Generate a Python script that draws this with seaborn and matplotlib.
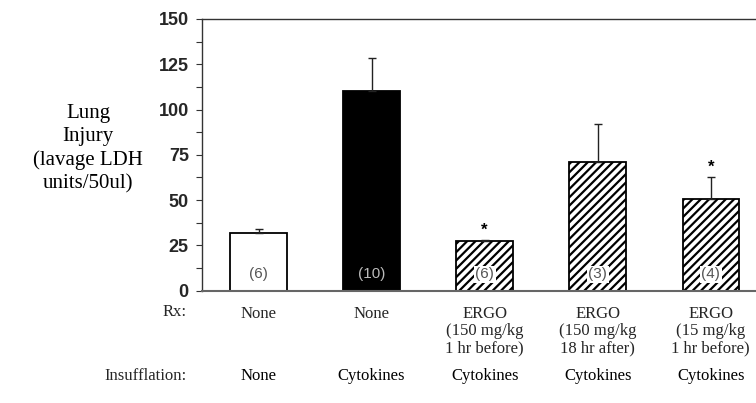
import matplotlib
matplotlib.use("Agg")
import matplotlib.pyplot as plt
import matplotlib.transforms as mtransforms
from matplotlib.ticker import MultipleLocator
import seaborn as sns
import pandas as pd

# ---- data ----
rx_labels = ["None", "None", "ERGO\n(150 mg/kg\n1 hr before)",
             "ERGO\n(150 mg/kg\n18 hr after)", "ERGO\n(15 mg/kg\n1 hr before)"]
insufflation = ["None", "Cytokines", "Cytokines", "Cytokines", "Cytokines"]
means = [32, 110.5, 27.3, 71, 50.7]
sem = [2.3, 18, 0.5, 21.3, 12]
n_labels = ["(6)", "(10)", "(6)", "(3)", "(4)"]
significant = [False, False, True, False, True]
fills = ["white", "black", "white", "white", "white"]
hatches = ["", "", "////", "////", "////"]

sns.set_theme(style="white")
plt.rcParams["hatch.linewidth"] = 1.6

df = pd.DataFrame({"group": [f"g{i}" for i in range(len(means))], "mean": means})

fig = plt.figure(figsize=(7.56, 4.03), dpi=100)
ax = fig.add_axes([202 / 756, 1 - 290.7 / 403, 1 - 202 / 756, (290.7 - 19) / 403])

sns.barplot(data=df, x="group", y="mean", hue="group", palette=fills, legend=False,
            width=0.5, edgecolor="black", linewidth=1.3, ax=ax, saturation=1)

centers = []
for patch, h in zip(ax.patches, hatches):
    patch.set_hatch(h)
    centers.append(patch.get_x() + patch.get_width() / 2)

ax.errorbar(centers, means, yerr=[[0] * len(sem), sem], fmt="none",
            ecolor="#222222", elinewidth=1.0, capsize=2.6, capthick=1.0, zorder=1)

for c, m, s, lab, sig, f, h in zip(centers, means, sem, n_labels, significant, fills, hatches):
    col = "#bbbbbb" if f == "black" else "#555555"
    bbox = dict(facecolor="white", edgecolor="none", pad=1.2) if h else None
    ax.text(c, 9, lab, ha="center", va="center", fontsize=11, color=col,
            family="Liberation Sans", bbox=bbox, zorder=5)
    if sig:
        ax.text(c, m + s + 1.5, "*", ha="center", va="bottom", fontsize=12,
                fontweight="bold", family="Liberation Sans", color="black")

ax.set_ylim(0, 150)
ax.set_xlim(-0.5, 4.4)
ax.yaxis.set_major_locator(MultipleLocator(25))
ax.yaxis.set_minor_locator(MultipleLocator(12.5))
ax.tick_params(axis="y", which="major", left=True, length=4.5, width=0.8, color="#333333",
               labelsize=13, pad=5)
ax.tick_params(axis="y", which="minor", left=True, length=4.5, width=0.8, color="#333333")
for t in ax.get_yticklabels():
    t.set_fontfamily("Liberation Sans")
    t.set_fontweight("bold")

ax.set_xticks(centers)
ax.set_xticklabels(rx_labels, family="Liberation Serif", fontsize=12, linespacing=1.12,
                   va="top")
ax.tick_params(axis="x", length=0, pad=11)
ax.set_xlabel("")

for side in ["left", "top", "bottom"]:
    ax.spines[side].set_visible(True)
    ax.spines[side].set_color("#333333")
    ax.spines[side].set_linewidth(1.0)
ax.spines["bottom"].set_color("#666666")
ax.spines["bottom"].set_linewidth(1.5)
ax.spines["right"].set_visible(False)

ax.set_ylabel("Lung\nInjury\n(lavage LDH\nunits/50ul)", rotation=0, ha="center",
              va="center", family="Liberation Serif", fontsize=15, linespacing=1.3,
              color="black")
ax.yaxis.set_label_coords((88 - 202) / 554, (290.7 - 149) / 271.7)

trans = mtransforms.blended_transform_factory(ax.transData, fig.transFigure)
for c, ins in zip(centers, insufflation):
    ax.text(c, 1 - 376 / 403, ins, transform=trans, ha="center", va="center",
            family="Liberation Serif", fontsize=12, color="black")
fig.text(187 / 756, 1 - 312 / 403, "Rx:", ha="right", va="center",
         family="Liberation Serif", fontsize=12)
fig.text(187 / 756, 1 - 376 / 403, "Insufflation:", ha="right", va="center",
         family="Liberation Serif", fontsize=12)

fig.savefig("out.png", dpi=100)
